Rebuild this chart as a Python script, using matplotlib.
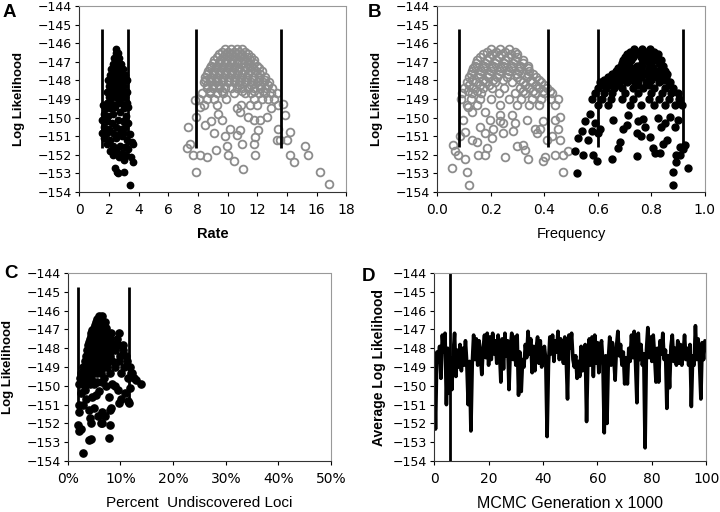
import matplotlib
matplotlib.use('Agg')
import matplotlib.pyplot as plt
import numpy as np
from matplotlib.ticker import FuncFormatter

plt.rcParams['font.family'] = 'DejaVu Sans'

# ---------------- Panel A: rate ----------------
rate_black = [
    (2.5, -146.3), (2.45, -146.5), (2.6, -146.5), (2.35, -146.8), (2.5, -146.8), (2.7, -146.8),
    (2.3, -147.1), (2.45, -147.1), (2.6, -147.1), (2.8, -147.1), (2.15, -147.4), (2.35, -147.4),
    (2.55, -147.4), (2.75, -147.4), (2.95, -147.4), (2.1, -147.7), (2.3, -147.7), (2.5, -147.7),
    (2.7, -147.7), (2.9, -147.7), (3.1, -147.7), (1.95, -148.0), (2.2, -148.0), (2.4, -148.0),
    (2.6, -148.0), (2.8, -148.0), (3.0, -148.0), (3.2, -148.0), (2.0, -148.3), (2.25, -148.3),
    (2.45, -148.3), (2.65, -148.3), (2.85, -148.3), (3.05, -148.3), (1.85, -148.6), (2.1, -148.6),
    (2.35, -148.6), (2.55, -148.6), (2.75, -148.6), (3.0, -148.6), (3.25, -148.6), (2.0, -148.9),
    (2.2, -148.9), (2.45, -148.9), (2.7, -148.9), (2.9, -148.9), (3.1, -148.9), (1.9, -149.2),
    (2.15, -149.2), (2.6, -149.2), (2.85, -149.2), (3.2, -149.2),
    (1.6, -149.3), (1.8, -149.5), (2.05, -149.5), (2.4, -149.4), (3.0, -149.5), (3.3, -149.4),
    (1.7, -149.8), (1.95, -149.9), (2.3, -149.8), (2.75, -149.7), (3.15, -149.9), (1.55, -150.1),
    (1.85, -150.2), (2.2, -150.3), (2.6, -150.1), (2.95, -150.2), (3.3, -150.3), (1.65, -150.5),
    (2.0, -150.6), (2.45, -150.5), (2.85, -150.6), (3.1, -150.5), (1.55, -150.8), (1.8, -150.9),
    (2.3, -150.8), (2.65, -150.9), (3.0, -150.8), (3.4, -150.9), (1.7, -151.1), (2.1, -151.2),
    (2.5, -151.1), (2.9, -151.0), (3.25, -151.2), (3.55, -151.3), (1.9, -151.4), (2.3, -151.5),
    (2.75, -151.5), (3.1, -151.6), (3.6, -151.4), (2.1, -151.8), (2.5, -151.8), (2.9, -151.9),
    (3.3, -151.7), (2.3, -152.0), (2.7, -152.1), (3.15, -152.0), (3.5, -152.1), (3.65, -152.4),
    (3.0, -152.3), (2.4, -152.7), (2.55, -152.9), (3.0, -152.9), (2.6, -153.0), (3.4, -153.6),
]

rate_grey = [
    (9.8, -146.3), (10.2, -146.3), (10.6, -146.3), (11.0, -146.3),
    (9.4, -146.6), (9.8, -146.6), (10.2, -146.6), (10.6, -146.6), (11.0, -146.6), (11.4, -146.6),
    (9.1, -146.9), (9.5, -146.9), (9.9, -146.9), (10.3, -146.9), (10.7, -146.9), (11.1, -146.9),
    (11.5, -146.9), (11.8, -146.9),
    (8.9, -147.2), (9.3, -147.2), (9.7, -147.2), (10.1, -147.2), (10.5, -147.2), (11.2, -147.2),
    (11.6, -147.2), (12.0, -147.2),
    (8.7, -147.5), (9.1, -147.5), (9.5, -147.5), (9.9, -147.5), (10.3, -147.5), (10.7, -147.5),
    (11.1, -147.5), (11.5, -147.5), (11.9, -147.5), (12.3, -147.5),
    (8.5, -147.8), (8.9, -147.8), (9.3, -147.8), (9.7, -147.8), (10.1, -147.8), (10.5, -147.8),
    (10.9, -147.8), (11.3, -147.8), (11.7, -147.8), (12.1, -147.8), (12.5, -147.8),
    (8.4, -148.1), (8.8, -148.1), (9.2, -148.1), (9.6, -148.1), (10.0, -148.1), (10.4, -148.1),
    (10.8, -148.1), (11.2, -148.1), (11.6, -148.1), (12.0, -148.1), (12.4, -148.1), (12.8, -148.1),
    (8.6, -148.4), (9.0, -148.4), (9.4, -148.4), (9.8, -148.4), (10.2, -148.4), (10.6, -148.4),
    (11.0, -148.4), (11.4, -148.4), (11.8, -148.4), (12.2, -148.4), (12.6, -148.4), (13.0, -148.4),
    (8.3, -148.7), (8.8, -148.7), (9.3, -148.7), (9.7, -148.7), (10.4, -148.7), (11.2, -148.7),
    (11.6, -148.7), (12.1, -148.7), (12.5, -148.7), (12.9, -148.7), (13.3, -148.7),
    (8.1, -149.0), (8.6, -149.0), (9.1, -149.0), (9.9, -149.0), (11.8, -149.0), (12.3, -149.0),
    (12.7, -149.0), (13.1, -149.0),
    (8.4, -149.3), (9.3, -149.3), (10.9, -149.3), (11.5, -149.3), (12.0, -149.3), (13.4, -149.3),
    # offset rows filling the dome
    (9.6, -146.45), (10.0, -146.45), (10.4, -146.45), (10.8, -146.45), (11.2, -146.45),
    (9.3, -146.75), (9.7, -146.75), (10.1, -146.75), (10.5, -146.75), (10.9, -146.75),
    (11.3, -146.75), (11.6, -146.75),
    (9.0, -147.05), (9.4, -147.05), (9.8, -147.05), (10.2, -147.05), (10.6, -147.05),
    (11.0, -147.05), (11.4, -147.05), (11.8, -147.05),
    (8.8, -147.35), (9.2, -147.35), (9.6, -147.35), (10.0, -147.35), (10.4, -147.35),
    (10.8, -147.35), (11.3, -147.35), (11.7, -147.35), (12.1, -147.35),
    (8.6, -147.65), (9.0, -147.65), (9.4, -147.65), (9.8, -147.65), (10.2, -147.65),
    (10.6, -147.65), (11.0, -147.65), (11.4, -147.65), (12.2, -147.65),
    (8.5, -147.95), (8.9, -147.95), (9.3, -147.95), (9.7, -147.95), (10.1, -147.95),
    (10.5, -147.95), (10.9, -147.95), (11.3, -147.95), (11.7, -147.95), (12.1, -147.95),
    (12.5, -147.95),
    (8.6, -148.25), (9.0, -148.25), (9.4, -148.25), (10.8, -148.25), (11.6, -148.25),
    (12.2, -148.25), (12.7, -148.25),
    (8.8, -148.55), (9.6, -148.55), (11.0, -148.55), (11.8, -148.55), (12.4, -148.55),
    # scattered lower points
    (7.35, -150.5), (7.8, -149.05), (7.9, -149.95), (8.15, -149.4), (7.45, -151.4), (7.25, -151.65),
    (7.7, -152.0), (8.15, -152.0), (8.6, -152.1), (7.9, -152.9), (8.45, -150.4), (8.9, -150.2),
    (9.05, -150.85), (9.35, -149.8), (9.6, -150.1), (9.25, -151.75), (9.8, -151.0), (9.95, -151.55),
    (10.05, -152.0), (10.4, -152.35), (10.15, -150.6), (10.6, -150.95), (10.85, -150.65),
    (10.95, -151.4), (11.05, -152.75), (10.6, -149.5), (10.85, -149.7), (11.4, -149.95),
    (11.75, -150.1), (12.05, -150.65), (11.85, -151.05), (11.8, -151.4), (11.85, -152.0),
    (12.15, -150.1), (12.65, -149.95), (12.95, -149.5), (13.4, -150.6), (13.3, -151.2),
    (13.55, -151.2), (13.85, -149.85), (13.75, -149.25), (14.2, -150.75), (14.0, -151.2),
    (14.2, -152.0), (14.45, -152.4), (15.2, -151.55), (15.45, -152.0), (16.25, -152.9),
    (16.8, -153.55),
]
rate_lines = [1.55, 3.28, 7.9, 13.6]

# ---------------- Panel B: frequency ----------------
freq_grey = [
    (0.20, -146.3), (0.235, -146.3), (0.27, -146.3),
    (0.17, -146.6), (0.205, -146.6), (0.24, -146.6), (0.275, -146.6), (0.30, -146.6),
    (0.15, -146.9), (0.185, -146.9), (0.22, -146.9), (0.255, -146.9), (0.29, -146.9), (0.32, -146.9),
    (0.14, -147.2), (0.175, -147.2), (0.21, -147.2), (0.245, -147.2), (0.28, -147.2), (0.31, -147.2),
    (0.34, -147.2),
    (0.13, -147.5), (0.165, -147.5), (0.20, -147.5), (0.235, -147.5), (0.27, -147.5), (0.305, -147.5),
    (0.345, -147.5),
    (0.12, -147.8), (0.155, -147.8), (0.19, -147.8), (0.225, -147.8), (0.26, -147.8), (0.30, -147.8),
    (0.335, -147.8), (0.37, -147.8),
    (0.11, -148.1), (0.145, -148.1), (0.18, -148.1), (0.215, -148.1), (0.28, -148.1), (0.32, -148.1),
    (0.355, -148.1), (0.39, -148.1),
    (0.10, -148.4), (0.135, -148.4), (0.17, -148.4), (0.205, -148.4), (0.25, -148.4), (0.31, -148.4),
    (0.345, -148.4), (0.38, -148.4), (0.41, -148.4),
    (0.095, -148.7), (0.13, -148.7), (0.165, -148.7), (0.23, -148.7), (0.29, -148.7), (0.33, -148.7),
    (0.365, -148.7), (0.40, -148.7), (0.43, -148.7),
    (0.09, -149.0), (0.125, -149.0), (0.16, -149.0), (0.20, -149.0), (0.27, -149.0), (0.315, -149.0),
    (0.355, -149.0), (0.39, -149.0), (0.425, -149.0), (0.45, -149.0),
    (0.11, -149.3), (0.15, -149.3), (0.235, -149.3), (0.30, -149.3), (0.345, -149.3), (0.38, -149.3),
    (0.44, -149.3),
    # offset rows filling the dome
    (0.185, -146.45), (0.22, -146.45), (0.255, -146.45), (0.29, -146.45),
    (0.16, -146.75), (0.195, -146.75), (0.23, -146.75), (0.265, -146.75), (0.30, -146.75),
    (0.145, -147.05), (0.18, -147.05), (0.215, -147.05), (0.25, -147.05), (0.285, -147.05),
    (0.32, -147.05),
    (0.135, -147.35), (0.17, -147.35), (0.205, -147.35), (0.24, -147.35), (0.275, -147.35),
    (0.31, -147.35), (0.34, -147.35),
    (0.125, -147.65), (0.16, -147.65), (0.195, -147.65), (0.23, -147.65), (0.265, -147.65),
    (0.30, -147.65), (0.34, -147.65), (0.36, -147.65),
    (0.13, -147.95), (0.17, -147.95), (0.21, -147.95), (0.245, -147.95), (0.31, -147.95),
    (0.35, -147.95), (0.38, -147.95),
    (0.12, -148.25), (0.16, -148.25), (0.195, -148.25), (0.33, -148.25), (0.37, -148.25),
    (0.40, -148.25),
    (0.115, -148.55), (0.15, -148.55), (0.32, -148.55), (0.36, -148.55), (0.395, -148.55),
    (0.42, -148.55),
    # scattered lower points
    (0.055, -152.7), (0.104, -152.2), (0.111, -152.9), (0.118, -153.6), (0.061, -151.45),
    (0.079, -152.0), (0.068, -151.8), (0.086, -151.0), (0.098, -150.1), (0.104, -150.75),
    (0.129, -151.2), (0.148, -151.3), (0.154, -152.0), (0.185, -151.65), (0.16, -150.5),
    (0.179, -150.85), (0.117, -149.4), (0.129, -149.7), (0.179, -149.7), (0.198, -150.1),
    (0.204, -151.1), (0.21, -150.6), (0.235, -150.2), (0.248, -150.3), (0.247, -150.85),
    (0.254, -152.1), (0.235, -149.85), (0.279, -149.85), (0.291, -150.3), (0.297, -151.55),
    (0.322, -151.45), (0.328, -151.75), (0.341, -152.2), (0.285, -150.7), (0.335, -150.1),
    (0.366, -150.6), (0.372, -150.85), (0.385, -150.6), (0.397, -150.2), (0.403, -152.1),
    (0.397, -152.35), (0.41, -151.2), (0.428, -151.0), (0.441, -152.0), (0.453, -150.6),
    (0.459, -151.2), (0.471, -152.0), (0.471, -152.95), (0.441, -150.1), (0.459, -149.95),
    (0.49, -151.8), (0.18, -152.0),
]

freq_black = [
    (0.735, -146.3), (0.765, -146.3), (0.795, -146.3),
    (0.71, -146.6), (0.74, -146.6), (0.77, -146.6), (0.80, -146.6), (0.825, -146.6),
    (0.695, -146.9), (0.725, -146.9), (0.78, -146.9), (0.81, -146.9), (0.835, -146.9),
    (0.685, -147.2), (0.715, -147.2), (0.745, -147.2), (0.79, -147.2), (0.845, -147.2),
    (0.67, -147.5), (0.70, -147.5), (0.73, -147.5), (0.76, -147.5), (0.79, -147.5), (0.82, -147.5),
    (0.85, -147.5),
    (0.64, -147.8), (0.67, -147.8), (0.70, -147.8), (0.73, -147.8), (0.76, -147.8), (0.79, -147.8),
    (0.82, -147.8), (0.855, -147.8),
    (0.61, -148.1), (0.64, -148.1), (0.675, -148.1), (0.71, -148.1), (0.74, -148.1), (0.78, -148.1),
    (0.83, -148.1), (0.87, -148.1),
    (0.60, -148.4), (0.63, -148.4), (0.66, -148.4), (0.69, -148.4), (0.73, -148.4), (0.77, -148.4),
    (0.81, -148.4), (0.85, -148.4), (0.88, -148.4),
    (0.59, -148.7), (0.625, -148.7), (0.655, -148.7), (0.70, -148.7), (0.75, -148.7), (0.80, -148.7),
    (0.84, -148.7), (0.875, -148.7), (0.90, -148.7),
    (0.58, -149.0), (0.615, -149.0), (0.65, -149.0), (0.69, -149.0), (0.73, -149.0), (0.79, -149.0),
    (0.83, -149.0), (0.865, -149.0), (0.905, -149.0),
    (0.60, -149.3), (0.64, -149.3), (0.72, -149.3), (0.76, -149.3), (0.81, -149.3), (0.85, -149.3),
    (0.89, -149.3), (0.915, -149.3),
    # offset rows filling the dome
    (0.72, -146.45), (0.75, -146.45), (0.78, -146.45), (0.81, -146.45),
    (0.70, -146.75), (0.73, -146.75), (0.76, -146.75), (0.79, -146.75), (0.82, -146.75),
    (0.69, -147.05), (0.71, -147.05), (0.765, -147.05), (0.80, -147.05), (0.83, -147.05),
    (0.675, -147.35), (0.705, -147.35), (0.735, -147.35), (0.765, -147.35), (0.805, -147.35),
    (0.835, -147.35),
    (0.655, -147.65), (0.685, -147.65), (0.715, -147.65), (0.745, -147.65), (0.775, -147.65),
    (0.805, -147.65), (0.835, -147.65), (0.86, -147.65),
    (0.625, -147.95), (0.655, -147.95), (0.69, -147.95), (0.72, -147.95), (0.75, -147.95),
    (0.80, -147.95), (0.845, -147.95),
    (0.615, -148.25), (0.65, -148.25), (0.68, -148.25), (0.75, -148.25), (0.79, -148.25),
    (0.865, -148.25),
    # scattered lower points
    (0.521, -153.0), (0.527, -151.1), (0.515, -151.8), (0.546, -152.0), (0.54, -150.7),
    (0.552, -150.2), (0.565, -151.2), (0.571, -149.8), (0.577, -150.7), (0.583, -152.0),
    (0.596, -152.35), (0.59, -150.3), (0.602, -150.85), (0.607, -150.6), (0.652, -152.2),
    (0.658, -150.1), (0.677, -151.65), (0.683, -151.3), (0.695, -150.6), (0.708, -150.4),
    (0.714, -149.85), (0.745, -152.05), (0.745, -150.85), (0.751, -150.2), (0.77, -150.05),
    (0.776, -150.5), (0.795, -151.05), (0.807, -151.65), (0.813, -151.9), (0.832, -151.9),
    (0.845, -151.4), (0.857, -151.2), (0.838, -150.5), (0.851, -150.3), (0.87, -149.95),
    (0.888, -150.5), (0.894, -152.0), (0.907, -152.0), (0.894, -152.4), (0.882, -152.9),
    (0.882, -153.6), (0.92, -151.7), (0.925, -151.45), (0.938, -152.7), (0.907, -151.6),
    (0.90, -150.1), (0.826, -150.0), (0.76, -151.0),
]
freq_lines = [0.083, 0.415, 0.60, 0.917]

# ---------------- Panel C: percent undiscovered loci ----------------
loci_black = [
    (6.0, -146.3), (6.6, -146.3),
    (5.3, -146.6), (5.9, -146.6), (6.5, -146.6), (7.1, -146.6),
    (4.9, -146.9), (5.5, -146.9), (6.1, -146.9), (6.7, -146.9), (7.3, -146.9),
    (4.5, -147.2), (5.1, -147.2), (5.7, -147.2), (6.3, -147.2), (6.9, -147.2), (7.5, -147.2), (8.3, -147.2),
    (4.2, -147.5), (4.8, -147.5), (5.4, -147.5), (6.0, -147.5), (6.6, -147.5), (7.2, -147.5), (8.0, -147.5),
    (9.3, -147.5),
    (3.9, -147.8), (4.5, -147.8), (5.1, -147.8), (5.7, -147.8), (6.3, -147.8), (6.9, -147.8), (7.6, -147.8),
    (8.6, -147.8), (9.6, -147.8),
    (3.7, -148.1), (4.3, -148.1), (4.9, -148.1), (5.5, -148.1), (6.1, -148.1), (6.8, -148.1), (7.5, -148.1),
    (8.3, -148.1), (9.0, -148.1), (10.5, -148.1),
    (3.5, -148.4), (4.1, -148.4), (4.7, -148.4), (5.3, -148.4), (5.9, -148.4), (6.5, -148.4), (7.2, -148.4),
    (8.0, -148.4), (10.0, -148.4), (11.0, -148.4),
    (3.3, -148.7), (3.9, -148.7), (4.5, -148.7), (5.2, -148.7), (5.8, -148.7), (6.4, -148.7), (7.5, -148.7),
    (8.5, -148.7), (9.8, -148.7), (11.3, -148.7),
    (3.0, -149.0), (3.6, -149.0), (4.3, -149.0), (5.0, -149.0), (6.0, -149.0), (6.8, -149.0), (7.4, -149.0),
    (9.0, -149.0), (10.6, -149.0), (11.8, -149.0),
    (2.6, -149.3), (3.3, -149.3), (4.0, -149.3), (4.7, -149.3), (5.5, -149.3), (6.4, -149.3), (8.0, -149.3),
    (10.2, -149.3), (12.2, -149.3),
    (2.4, -149.6), (3.0, -149.6), (3.7, -149.6), (4.5, -149.6), (6.8, -149.6), (11.4, -149.6), (12.5, -149.6),
    (2.2, -149.9), (2.9, -149.9), (3.5, -149.9), (4.2, -149.9), (5.0, -149.9), (8.5, -149.9), (13.9, -149.9),
    (5.6, -146.45), (6.3, -146.45), (5.1, -146.75), (5.7, -146.75), (6.8, -146.75),
    (4.7, -147.05), (6.0, -147.05), (7.1, -147.05), (4.4, -147.35), (5.7, -147.35), (7.6, -147.35),
    (4.1, -147.65), (5.3, -147.65), (6.5, -147.65),
    (9.8, -147.2), (10.5, -147.8), (12.0, -149.3), (13.0, -149.7), (11.7, -150.9), (10.1, -150.7),
    (8.2, -151.2), (9.5, -150.2), (8.9, -150.0), (11.9, -150.1), (11.5, -150.8), (10.8, -150.4),
    (9.8, -150.9), (7.9, -150.6), (8.1, -151.3), (8.0, -152.1), (7.8, -152.8), (6.5, -152.0),
    (5.8, -151.6), (5.0, -151.2), (4.5, -152.0), (4.0, -152.9), (4.4, -152.85), (2.9, -153.6),
    (2.1, -152.4), (2.5, -152.3), (2.0, -152.1), (2.2, -151.4), (2.1, -151.0), (3.0, -151.0),
    (3.5, -150.7), (4.0, -151.3), (4.3, -151.7), (5.3, -150.5), (6.0, -150.3), (6.5, -151.4),
    (7.0, -151.6), (6.3, -152.0), (2.6, -150.4), (3.2, -150.2), (4.6, -150.6), (5.6, -149.8),
    (7.2, -150.0), (6.6, -149.8),
]
loci_lines = [1.9, 11.65]

# ---------------- Panel D: MCMC trace ----------------
mcmc_step = 0.5
mcmc_loglik = [
    -148.6, -152.3, -148.2, -148.7, -147.9, -149.6, -147.3, -148.2, -147.2, -151.0,
    -148.0, -150.4, -148.5, -150.2, -148.3, -147.2, -149.5, -148.1, -149.0, -147.8,
    -149.2, -148.0, -148.9, -147.6, -148.8, -151.0, -148.7, -152.4, -148.8, -147.3,
    -148.6, -147.5, -148.9, -147.6, -148.4, -149.4, -148.0, -147.3, -148.5, -147.2,
    -148.9, -147.4, -148.6, -147.2, -148.3, -147.6, -148.8, -147.3, -148.1, -149.8,
    -147.5, -149.1, -147.2, -148.4, -147.6, -150.2, -148.0, -147.2, -148.6, -147.4,
    -148.9, -147.3, -150.5, -148.2, -150.3, -148.6, -149.0, -147.8, -148.5, -147.1,
    -148.3, -147.5, -149.3, -147.9, -149.2, -148.0, -147.4, -148.8, -147.6, -149.0,
    -148.4, -147.9, -148.6, -152.7, -148.9, -147.4, -148.3, -147.3, -148.7, -147.6,
    -148.2, -147.1, -148.6, -147.5, -148.1, -148.8, -147.4, -148.5, -150.7, -147.3,
    -148.0, -147.2, -148.6, -149.0, -148.4, -149.6, -148.7, -149.5, -147.9, -149.2,
    -148.1, -147.8, -151.9, -148.5, -147.5, -148.9, -147.4, -149.5, -147.3, -148.8,
    -147.7, -149.3, -148.0, -147.6, -148.8, -152.5, -148.4, -152.0, -148.6, -147.4,
    -148.9, -147.7, -148.5, -149.7, -147.9, -147.1, -148.4, -147.8, -148.9, -148.2,
    -149.9, -148.5, -149.9, -148.0, -148.7, -147.3, -148.5, -147.1, -148.8, -150.9,
    -147.2, -148.6, -147.8, -148.9, -148.3, -153.3, -148.1, -146.9, -148.5, -147.4,
    -148.7, -147.3, -148.4, -149.8, -148.0, -149.8, -147.6, -148.3, -147.2, -148.6,
    -148.1, -151.2, -148.4, -150.1, -147.9, -147.3, -148.7, -148.0, -148.9, -147.6,
    -148.8, -147.8, -148.9, -148.3, -147.3, -148.6, -148.0, -148.9, -147.8, -151.1,
    -148.4, -148.9, -146.8, -148.6, -147.5, -148.8, -150.7, -147.7, -148.6, -147.6,
    -148.0,
]
burnin_gen = 6.0

yticks = list(range(-154, -143))

LABEL_FONT = ['Liberation Sans', 'DejaVu Sans']


def style_axis(ax, xlabel, ylabel, xweight='bold', xsize=10, ysize=9.5, ypad=9):
    ax.set_ylim(-154, -144)
    ax.set_yticks(yticks)
    ax.tick_params(axis='y', labelsize=9, length=3, direction='out', pad=2)
    ax.tick_params(axis='x', labelsize=10, length=3, direction='out', pad=5)
    for side in ['top', 'right']:
        ax.spines[side].set_color('#999999')
        ax.spines[side].set_linestyle((0, (2, 1)))
    for side in ['left', 'bottom']:
        ax.spines[side].set_color('#333333')
    ax.set_xlabel(xlabel, fontsize=xsize, fontweight=xweight, family=LABEL_FONT, labelpad=7)
    ax.set_ylabel(ylabel, fontsize=ysize, fontweight='bold', family=LABEL_FONT, labelpad=ypad)


fig = plt.figure(figsize=(7.2, 5.12), dpi=100)

axA = fig.add_axes([0.110, 0.625, 0.371, 0.363])
axB = fig.add_axes([0.607, 0.625, 0.372, 0.363])
axC = fig.add_axes([0.094, 0.0996, 0.366, 0.367])
axD = fig.add_axes([0.603, 0.0996, 0.378, 0.367])

grey = '#8c8c8c'

# A
xa, ya = zip(*rate_grey)
axA.plot(xa, ya, 'o', ms=5.6, mfc='none', mec=grey, mew=1.3)
xa, ya = zip(*rate_black)
axA.plot(xa, ya, 'o', ms=4.6, color='black')
axA.vlines(rate_lines, -151.65, -145.25, color='black', lw=2)
axA.set_xlim(0, 18)
axA.set_xticks(range(0, 19, 2))
style_axis(axA, 'Rate', 'Log Likelihood', xsize=10.5)

# B
xb, yb = zip(*freq_grey)
axB.plot(xb, yb, 'o', ms=5.6, mfc='none', mec=grey, mew=1.3)
xb, yb = zip(*freq_black)
axB.plot(xb, yb, 'o', ms=5.0, color='black')
axB.vlines(freq_lines, -151.6, -145.25, color='black', lw=2)
axB.set_xlim(0, 1)
axB.set_xticks(np.arange(0, 1.01, 0.2))
axB.xaxis.set_major_formatter(FuncFormatter(lambda v, p: f'{v:.1f}'))
style_axis(axB, 'Frequency', 'Log Likelihood', xweight='normal', xsize=10.5)

# C
xc, yc = zip(*loci_black)
axC.plot(xc, yc, 'o', ms=5.2, color='black')
axC.vlines(loci_lines, -151.05, -144.75, color='black', lw=2)
axC.set_xlim(0, 50)
axC.set_xticks(range(0, 51, 10))
axC.xaxis.set_major_formatter(FuncFormatter(lambda v, p: f'{v:.0f}%'))
style_axis(axC, 'Percent  Undiscovered Loci', 'Log Likelihood', xweight='normal', xsize=11)

# D
gens = np.arange(len(mcmc_loglik)) * mcmc_step
axD.plot(gens, mcmc_loglik, color='black', lw=2.6)
axD.vlines([burnin_gen], -154, -144, color='black', lw=2)
axD.set_xlim(0, 100)
axD.set_xticks(range(0, 101, 20))
style_axis(axD, 'MCMC Generation x 1000', 'Average Log Likelihood', xweight='normal',
           xsize=11.5, ysize=10, ypad=5)

for label, (x, y) in zip('ABCD', [(0.004, 0.992), (0.511, 0.992), (0.006, 0.482), (0.503, 0.476)]):
    fig.text(x, y, label, fontsize=13.5, fontweight='bold', family=LABEL_FONT, va='top', ha='left')

fig.savefig('out.png', dpi=100)
